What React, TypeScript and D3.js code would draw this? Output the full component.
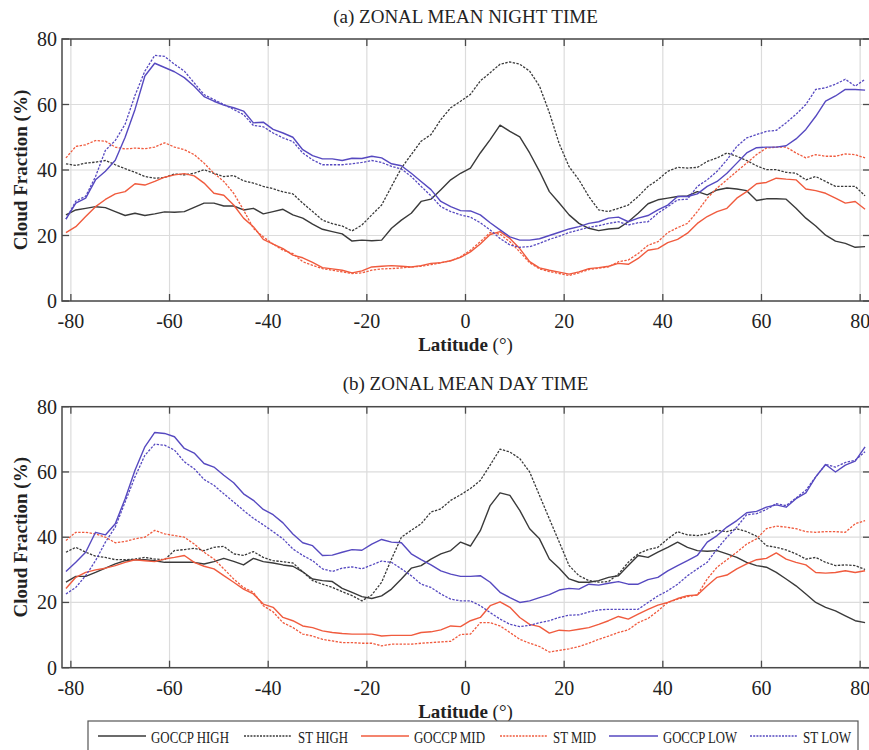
import React from "react";
import * as d3 from "d3";

// ---------- DATA ----------
const LATITUDES = [
  -81, -79, -77, -75, -73, -71, -69, -67, -65, -63, -61, -59, -57, -55, -53, -51, -49, -47, -45, -43,
  -41, -39, -37, -35, -33, -31, -29, -27, -25, -23, -21, -19, -17, -15, -13, -11, -9, -7, -5, -3, -1,
  1, 3, 5, 7, 9, 11, 13, 15, 17, 19, 21, 23, 25, 27, 29, 31, 33, 35, 37, 39, 41, 43, 45, 47, 49, 51,
  53, 55, 57, 59, 61, 63, 65, 67, 69, 71, 73, 75, 77, 79, 81,
];

// (a) night time
const goccpHighNight = [
  26.3, 27.8, 28.3, 28.8, 28.5, 27.3, 26.1, 26.8, 26.1, 26.6, 27.2, 27.1, 27.3, 28.6, 29.9, 29.9, 29.0, 29.0, 27.8, 28.3, 26.6, 27.3, 28.0, 26.3, 25.3, 23.5, 21.9, 21.2,
  20.5, 18.3, 18.6, 18.4, 18.6, 22.2, 24.7, 26.8, 30.4, 31.1, 34.0, 37.0, 39.0,
  40.6, 45.2, 49.3, 53.7, 51.8, 50.1, 45.2, 39.6, 33.4, 29.9, 26.3, 23.7, 22.2, 21.5, 22.0,
  22.2, 24.2, 26.8, 29.7, 30.9, 31.4, 31.9, 32.1, 33.4, 32.4, 33.9, 34.5, 34.2, 33.7, 30.7, 31.2, 31.2, 31.1, 28.3, 25.3, 22.9, 20.1, 18.3, 17.6, 16.4, 16.6,
];
const stHighNight = [
  41.9, 41.4, 42.1, 42.4, 42.9, 41.6, 40.4, 39.3, 38.0, 37.5, 37.7, 38.8, 38.5, 39.0, 40.1, 39.0, 38.0, 38.3, 36.7, 36.0, 35.0, 34.3, 33.3, 32.7, 29.9, 27.3, 24.7, 23.6,
  22.9, 21.4, 23.2, 26.3, 29.3, 35.0, 40.6, 44.7, 48.8, 50.8, 55.4, 59.0, 61.0,
  63.1, 67.2, 69.7, 72.3, 73.0, 72.3, 70.2, 65.6, 57.5, 48.0, 41.0, 37.0, 31.9, 27.8, 27.3,
  28.3, 29.3, 31.9, 35.0, 37.0, 39.6, 40.8, 40.6, 40.8, 42.6, 43.7, 45.2, 44.2, 42.9, 41.3, 40.1, 40.1, 39.3, 39.0, 37.0, 38.0, 36.5, 35.0, 35.0, 35.0, 32.1,
];
const goccpMidNight = [
  20.9, 22.7, 25.8, 28.8, 31.0, 32.7, 33.4, 35.8, 35.4, 36.5, 37.8, 38.5, 38.9, 38.2, 36.0, 32.9, 32.3, 29.3, 25.3, 22.7, 18.8, 17.4, 16.0, 14.0, 13.2, 11.8, 10.2, 9.8,
  9.4, 8.6, 9.2, 10.4, 10.6, 10.8, 10.6, 10.4, 10.8, 11.5, 11.7, 12.3, 13.3,
  15.0, 17.4, 20.3, 21.2, 19.1, 16.0, 12.0, 10.1, 9.4, 8.8, 8.2, 8.9, 9.9, 10.2, 10.6,
  11.5, 11.2, 13.0, 15.5, 16.0, 17.8, 18.8, 20.7, 23.7, 25.8, 27.3, 28.3, 31.4, 33.4, 35.8, 36.2, 37.5, 37.2, 37.0, 34.2, 33.7, 32.9, 31.4, 29.9, 30.4, 28.0,
];
const stMidNight = [
  43.7, 47.2, 47.7, 49.0, 48.8, 47.0, 46.4, 46.7, 46.5, 47.0, 48.3, 47.0, 46.2, 44.7, 42.1, 39.0, 36.5, 32.9, 27.8, 22.2, 19.6, 17.4, 15.5, 14.5, 12.0, 10.9, 9.9, 9.4,
  8.9, 8.4, 8.6, 9.4, 9.8, 9.9, 10.1, 10.4, 10.6, 11.1, 11.7, 12.3, 13.5,
  15.5, 18.1, 20.9, 20.4, 18.1, 15.0, 11.7, 9.8, 9.0, 8.4, 7.8, 8.6, 9.6, 10.0, 10.4,
  12.0, 12.5, 14.5, 17.0, 18.1, 20.9, 22.4, 23.7, 27.3, 31.4, 34.5, 37.0, 39.6, 42.1, 44.7, 46.7, 47.0, 47.0, 45.2, 43.7, 44.7, 44.2, 44.2, 44.9, 44.7, 43.7,
];
const goccpLowNight = [
  25.0, 29.9, 31.4, 37.0, 39.6, 43.0, 50.0, 58.5, 68.7, 72.6, 71.3, 70.0, 68.2, 65.6, 62.4, 61.0, 59.8, 59.0, 58.0, 54.4, 54.6, 52.4, 51.3, 50.0, 46.2, 44.4, 43.4, 43.4,
  42.9, 43.6, 43.5, 44.2, 43.7, 41.9, 41.3, 39.0, 36.5, 34.0, 30.4, 28.8, 27.6,
  27.5, 26.3, 23.9, 21.7, 19.6, 18.6, 18.6, 19.0, 20.0, 21.0, 22.0, 22.7, 23.7, 24.2, 25.3,
  25.6, 24.2, 25.3, 26.1, 27.8, 29.3, 31.9, 31.9, 32.7, 35.0, 36.5, 39.0, 42.1, 45.2, 46.8, 47.0, 47.0, 47.4, 49.5, 52.4, 56.4, 61.0, 62.6, 64.6, 64.6, 64.4,
];
const stLowNight = [
  25.0, 30.5, 32.0, 38.0, 46.0, 49.0, 54.0, 62.8, 70.2, 75.0, 74.7, 72.3, 70.2, 66.6, 63.0, 61.5, 60.0, 58.5, 56.9, 53.6, 53.2, 51.3, 49.8, 48.7, 45.2, 43.1, 41.6, 41.6,
  41.6, 41.9, 42.3, 42.9, 42.3, 41.1, 40.3, 38.0, 35.0, 32.1, 28.8, 27.3, 26.3,
  25.6, 23.9, 21.7, 19.1, 17.1, 16.4, 16.6, 17.6, 18.8, 19.8, 20.9, 21.7, 22.5, 23.0, 23.7,
  24.2, 23.2, 23.9, 24.2, 26.8, 28.8, 30.9, 31.1, 35.0, 37.0, 39.6, 43.1, 47.2, 49.8, 50.8, 51.8, 52.1, 54.4, 57.0, 60.0, 64.6, 65.1, 66.2, 67.7, 65.6, 67.7,
];

// (b) day time
const goccpHighDay = [
  26.2, 28.0, 28.0, 29.2, 30.5, 31.8, 32.8, 33.1, 33.1, 32.8, 32.3, 32.3, 32.3, 32.3, 31.8, 32.5, 33.5, 32.6, 31.5, 33.5, 32.5, 32.1, 31.5, 31.1, 29.4, 27.2, 26.7, 26.4,
  24.3, 23.1, 21.8, 21.2, 22.0, 24.1, 27.2, 30.5, 31.3, 33.3, 34.9, 35.9, 38.5,
  37.3, 42.0, 49.7, 53.6, 52.8, 48.2, 42.6, 39.5, 33.3, 30.5, 27.2, 26.2, 26.2, 26.7, 27.7,
  28.2, 31.3, 34.4, 33.8, 35.4, 36.9, 38.5, 36.9, 35.9, 35.7, 35.9, 34.9, 33.8, 32.3, 31.3, 30.8, 29.2, 27.2, 25.1, 22.6, 20.0, 18.5, 17.4, 15.9, 14.4, 13.8,
];
const stHighDay = [
  35.4, 36.9, 35.4, 34.2, 33.8, 33.1, 33.1, 33.3, 33.8, 33.3, 33.1, 35.9, 36.2, 36.6, 35.9, 36.9, 37.2, 34.9, 34.4, 35.6, 33.8, 32.8, 32.5, 32.1, 29.4, 26.7, 25.6, 24.6,
  23.3, 22.1, 20.5, 22.3, 26.2, 33.3, 40.0, 42.1, 44.1, 47.7, 48.7, 51.3, 53.0,
  54.9, 57.4, 62.1, 67.0, 66.1, 64.1, 60.0, 52.8, 45.6, 38.5, 31.3, 28.2, 26.7, 26.2, 26.4,
  28.7, 32.3, 34.9, 36.2, 36.9, 39.5, 41.7, 40.7, 40.5, 41.0, 42.1, 41.7, 42.6, 41.7, 40.3, 37.4, 36.9, 36.1, 34.9, 33.3, 33.8, 32.3, 31.3, 31.5, 31.3, 30.1,
];
const goccpMidDay = [
  24.3, 27.7, 29.2, 30.0, 30.5, 31.3, 32.3, 33.1, 32.8, 32.5, 33.3, 33.8, 34.4, 32.3, 31.1, 30.3, 28.2, 26.2, 24.1, 22.6, 19.5, 18.5, 15.4, 14.4, 12.8, 12.3, 11.3, 10.8,
  10.5, 10.3, 10.3, 10.3, 9.7, 9.9, 9.9, 9.9, 10.8, 11.0, 11.6, 12.8, 12.6,
  14.4, 15.4, 19.0, 20.2, 18.5, 15.4, 13.3, 12.6, 10.6, 11.5, 11.3, 11.8, 12.3, 13.3, 14.4,
  15.7, 14.9, 16.4, 17.9, 19.2, 20.0, 21.2, 22.1, 22.3, 25.1, 27.7, 28.4, 30.3, 31.8, 33.1, 33.5, 35.2, 33.3, 32.3, 31.5, 29.2, 29.0, 29.2, 29.7, 29.2, 29.7,
];
const stMidDay = [
  39.0, 41.5, 41.5, 41.0, 40.0, 38.3, 38.7, 39.5, 40.0, 42.1, 41.0, 40.5, 40.0, 37.9, 35.4, 33.3, 30.3, 27.2, 24.6, 23.1, 19.0, 17.1, 13.8, 12.3, 10.3, 9.7, 8.7, 8.2,
  7.7, 7.7, 7.5, 7.5, 6.7, 7.2, 7.2, 7.2, 7.5, 7.7, 7.9, 8.1, 10.2,
  10.3, 13.8, 13.8, 12.8, 10.8, 8.7, 7.5, 6.5, 4.8, 5.3, 5.8, 6.5, 7.5, 8.7, 9.7,
  10.8, 11.6, 13.8, 15.1, 17.4, 20.0, 21.0, 21.8, 22.3, 27.2, 30.8, 33.1, 35.4, 37.9, 39.5, 42.6, 43.4, 43.1, 42.6, 41.7, 41.5, 41.7, 41.7, 41.5, 44.1, 45.1,
];
const goccpLowDay = [
  29.5, 32.3, 35.4, 41.5, 40.7, 44.1, 51.8, 60.5, 67.7, 72.1, 71.8, 70.8, 67.2, 65.8, 62.6, 61.5, 59.0, 56.7, 53.3, 51.3, 48.5, 46.9, 44.4, 41.0, 38.3, 37.4, 34.4, 34.5,
  35.4, 36.2, 36.0, 37.9, 39.3, 38.5, 38.3, 34.9, 33.1, 31.5, 29.7, 28.7, 28.0,
  28.0, 28.2, 26.2, 23.1, 21.5, 20.0, 20.5, 21.5, 22.4, 23.8, 24.3, 24.1, 25.6, 25.3, 25.9,
  26.4, 25.6, 25.6, 27.0, 27.7, 29.7, 31.3, 32.8, 34.4, 38.5, 40.5, 43.1, 45.1, 47.5, 47.9, 49.2, 49.9, 49.2, 51.8, 53.6, 58.5, 62.3, 60.0, 62.1, 63.3, 67.7,
];
const stLowDay = [
  22.6, 24.6, 28.2, 32.8, 38.5, 43.1, 50.8, 58.5, 65.1, 68.5, 68.2, 66.7, 63.1, 61.0, 57.7, 55.9, 53.3, 50.8, 48.2, 45.8, 43.8, 41.7, 39.5, 36.4, 34.4, 32.8, 30.3, 29.5,
  30.5, 30.9, 30.3, 31.5, 32.7, 32.3, 30.3, 28.2, 25.6, 24.6, 22.6, 21.0, 20.5,
  20.5, 19.0, 16.9, 14.9, 13.3, 12.6, 13.0, 13.8, 14.4, 15.4, 16.1, 16.2, 17.1, 17.7, 17.9,
  17.9, 17.9, 17.9, 20.0, 22.0, 23.6, 25.6, 28.2, 30.3, 32.3, 36.4, 40.0, 43.1, 46.9, 47.2, 48.5, 50.3, 49.7, 52.0, 54.4, 58.5, 62.3, 61.5, 62.9, 63.6, 66.2,
];

const X_TICKS = [-80, -60, -40, -20, 0, 20, 40, 60, 80];
const Y_TICKS = [0, 20, 40, 60, 80];
const PANEL_TITLES = ["(a) ZONAL MEAN NIGHT TIME", "(b) ZONAL MEAN DAY TIME"];
const SERIES_NAMES = ["GOCCP HIGH", "ST HIGH", "GOCCP MID", "ST MID", "GOCCP LOW", "ST LOW"];

// ---------- STYLE ----------
const BLACK = "#3a3a3a";
const RED = "#f05b3e";
const BLUE = "#5649c0";
const DASH = "2.4,1.4";
const FONT = "'Liberation Serif', 'Times New Roman', serif";

const SERIES = [
  { name: SERIES_NAMES[0], color: BLACK, dashed: false, night: goccpHighNight, day: goccpHighDay },
  { name: SERIES_NAMES[1], color: BLACK, dashed: true, night: stHighNight, day: stHighDay },
  { name: SERIES_NAMES[2], color: RED, dashed: false, night: goccpMidNight, day: goccpMidDay },
  { name: SERIES_NAMES[3], color: RED, dashed: true, night: stMidNight, day: stMidDay },
  { name: SERIES_NAMES[4], color: BLUE, dashed: false, night: goccpLowNight, day: goccpLowDay },
  { name: SERIES_NAMES[5], color: BLUE, dashed: true, night: stLowNight, day: stLowDay },
];

const W = 869;
const H = 750;
const xScale = d3.scaleLinear().domain([-81.8, 82]).range([62, 870]);

const PANELS = [
  { title: PANEL_TITLES[0], key: "night", top: 39, bottom: 301, titleY: 23 },
  { title: PANEL_TITLES[1], key: "day", top: 406.7, bottom: 667.7, titleY: 390 },
];

// legend layout: [lineStart, lineEnd, textStart, textEnd]
const LEGEND_POS = [
  [98, 146, 151, 229],
  [244, 292, 298, 348],
  [361, 409, 414, 485],
  [500, 547, 553, 596],
  [609, 658, 663, 737],
  [750, 798, 803, 851],
];

function Panel({ p }: { p: (typeof PANELS)[number] }) {
  const y = d3.scaleLinear().domain([0, 80]).range([p.bottom, p.top]);
  const [x0, x1] = xScale.range();
  const line = d3
    .line<number>()
    .x((_, i) => xScale(LATITUDES[i]))
    .y((v) => y(v));
  const midX = xScale(0);
  const tickLen = 7;
  return (
    <g>
      <text x={midX} y={p.titleY} textAnchor="middle" fontSize={19} fontFamily={FONT} fill="#222">
        {p.title}
      </text>
      {/* grid */}
      {X_TICKS.map((t) => (
        <line key={"gx" + t} x1={xScale(t)} x2={xScale(t)} y1={p.top} y2={p.bottom} stroke="#dcdcdc" strokeWidth={1.2} />
      ))}
      {Y_TICKS.map((t) => (
        <line key={"gy" + t} x1={x0} x2={x1} y1={y(t)} y2={y(t)} stroke="#dcdcdc" strokeWidth={1.2} />
      ))}
      {/* series */}
      {SERIES.map((s) => (
        <path
          key={s.name}
          d={line((s as any)[p.key]) || ""}
          fill="none"
          stroke={s.color}
          strokeWidth={s.dashed ? 1.3 : 1.4}
          strokeDasharray={s.dashed ? DASH : undefined}
          strokeLinejoin="round"
        />
      ))}
      {/* axes box */}
      <rect x={x0} y={p.top} width={x1 - x0} height={p.bottom - p.top} fill="none" stroke="#4a4a4a" strokeWidth={1.5} />
      {X_TICKS.map((t) => (
        <g key={"tx" + t}>
          <line x1={xScale(t)} x2={xScale(t)} y1={p.bottom} y2={p.bottom - tickLen} stroke="#4a4a4a" strokeWidth={1.3} />
          <line x1={xScale(t)} x2={xScale(t)} y1={p.top} y2={p.top + tickLen} stroke="#4a4a4a" strokeWidth={1.3} />
          <text x={xScale(t)} y={p.bottom + 27} textAnchor="middle" fontSize={20} fontFamily={FONT} fill="#222">
            {t}
          </text>
        </g>
      ))}
      {Y_TICKS.map((t) => (
        <g key={"ty" + t}>
          <line x1={x0} x2={x0 + tickLen} y1={y(t)} y2={y(t)} stroke="#4a4a4a" strokeWidth={1.3} />
          <line x1={x1} x2={x1 - tickLen} y1={y(t)} y2={y(t)} stroke="#4a4a4a" strokeWidth={1.3} />
          <text x={x0 - 5} y={y(t)} dy="0.35em" textAnchor="end" fontSize={20} fontFamily={FONT} fill="#222">
            {t}
          </text>
        </g>
      ))}
      <text x={midX} y={p.bottom + 50} textAnchor="middle" fontSize={19} fontFamily={FONT} fill="#222">
        <tspan fontWeight="bold">Latitude</tspan>
        <tspan> (°)</tspan>
      </text>
      <text
        transform={`translate(27, ${(p.top + p.bottom) / 2}) rotate(-90)`}
        textAnchor="middle"
        fontSize={19}
        fontFamily={FONT}
        fontWeight="bold"
        fill="#222"
      >
        Cloud Fraction (%)
      </text>
    </g>
  );
}

export default function App() {
  return (
    <svg width={W} height={H} style={{ position: "absolute", left: 0, top: 0, background: "#fff" }}>
      <rect x={0} y={0} width={W} height={H} fill="#fff" />
      {PANELS.map((p) => (
        <Panel key={p.key} p={p} />
      ))}
      <rect x={88} y={721} width={770} height={45} fill="#fff" stroke="#555" strokeWidth={1.2} />
      {SERIES.map((s, i) => {
        const [l0, l1, t0, t1] = LEGEND_POS[i];
        return (
          <g key={"lg" + s.name}>
            <line x1={l0} x2={l1} y1={736} y2={736} stroke={s.color} strokeWidth={1.5} strokeDasharray={s.dashed ? "2,1.2" : undefined} />
            <text
              x={t0}
              y={743}
              fontSize={17}
              fontFamily={FONT}
              fill="#222"
              textLength={t1 - t0}
              lengthAdjust="spacingAndGlyphs"
            >
              {s.name}
            </text>
          </g>
        );
      })}
    </svg>
  );
}
